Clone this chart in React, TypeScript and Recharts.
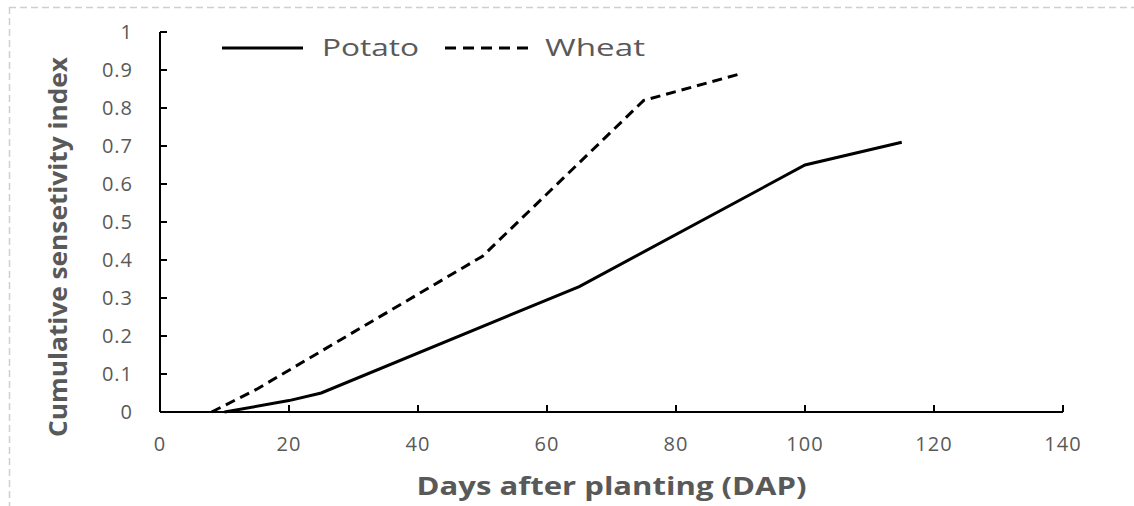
import { LineChart, Line, XAxis, YAxis, Label } from 'recharts';

// Days after planting (DAP) vs cumulative sensitivity index
const potatoDap = [10, 20, 25, 65, 100, 115];
const potatoIndex = [0, 0.03, 0.05, 0.33, 0.65, 0.71];
const wheatDap = [8, 15, 20, 25, 50, 75, 90];
const wheatIndex = [0, 0.06, 0.11, 0.16, 0.41, 0.82, 0.89];

const xTicks = [0, 20, 40, 60, 80, 100, 120, 140];
const yTicks = [0, 0.1, 0.2, 0.3, 0.4, 0.5, 0.6, 0.7, 0.8, 0.9, 1];

const potato = potatoDap.map((x, i) => ({ x, y: potatoIndex[i] }));
const wheat = wheatDap.map((x, i) => ({ x, y: wheatIndex[i] }));

const FONT = '"Open Sans", "Noto Sans", sans-serif';
const GREY = '#595959';

// legend drawn on its own, so it takes no room from the plot area
function ChartLegend() {
  return (
    <svg width={440} height={34} style={{ position: 'absolute', left: 222, top: 31 }} fontFamily={FONT}>
      <line x1={0} x2={81} y1={17} y2={17} stroke="#000" strokeWidth={3} />
      <text x={100} y={25} fontSize={24} fill={GREY} textLength={97} lengthAdjust="spacingAndGlyphs">
        Potato
      </text>
      <line x1={223} x2={306} y1={17} y2={17} stroke="#000" strokeWidth={3} strokeDasharray="11 7" />
      <text x={323} y={25} fontSize={24} fill={GREY} textLength={100} lengthAdjust="spacingAndGlyphs">
        Wheat
      </text>
    </svg>
  );
}

export default function App() {
  return (
    <div style={{ position: 'absolute', left: 0, top: 0, width: 1134, height: 506, background: '#fff' }}>
      <svg width={1134} height={506} style={{ position: 'absolute', left: 0, top: 0 }}>
        <line x1={9} x2={1134} y1={7.5} y2={7.5} stroke="#cfcfcf" strokeWidth={1.5} strokeDasharray="7 4" />
        <line x1={9.5} x2={9.5} y1={7} y2={506} stroke="#cfcfcf" strokeWidth={1.5} strokeDasharray="7 4" />
      </svg>
      <LineChart
        width={1134}
        height={506}
        margin={{ top: 32, right: 71, bottom: 0, left: 0 }}
        style={{ position: 'absolute', left: 0, top: 0, fontFamily: FONT }}
      >
        <XAxis
          type="number"
          dataKey="x"
          domain={[0, 140]}
          ticks={xTicks}
          height={94}
          axisLine={{ stroke: '#000', strokeWidth: 2 }}
          tickLine={{ stroke: '#000', strokeWidth: 2 }}
          tickSize={-7}
          tickMargin={32}
          tick={{ fill: GREY, fontSize: 20, letterSpacing: 1 }}
          allowDataOverflow
        >
          <Label
            position="insideBottom"
            content={(props: any) => {
              const vb = props.viewBox;
              return (
                <text
                  x={vb.x + vb.width / 2}
                  y={vb.y + vb.height - 11}
                  textAnchor="middle"
                  fill={GREY}
                  fontSize={25}
                  fontWeight={700}
                  fontFamily={FONT}
                  textLength={390}
                  lengthAdjust="spacingAndGlyphs"
                >
                  Days after planting (DAP)
                </text>
              );
            }}
          />
        </XAxis>
        <YAxis
          type="number"
          dataKey="y"
          domain={[0, 1]}
          ticks={yTicks}
          width={160}
          axisLine={{ stroke: '#000', strokeWidth: 2 }}
          tickLine={{ stroke: '#000', strokeWidth: 2 }}
          tickSize={-7}
          tickMargin={34}
          tick={{ fill: GREY, fontSize: 20, letterSpacing: 1 }}
          tickFormatter={(v: number) => String(v)}
          label={{
            content: () => (
              <text
                x={0}
                y={0}
                transform="translate(67 247) rotate(-90)"
                textAnchor="middle"
                fill={GREY}
                fontSize={25}
                fontWeight={700}
                fontFamily={FONT}
                textLength={380}
                lengthAdjust="spacingAndGlyphs"
              >
                Cumulative sensetivity index
              </text>
            ),
          }}
        />
        <Line
          data={potato}
          dataKey="y"
          name="Potato"
          type="linear"
          stroke="#000"
          strokeWidth={3}
          dot={false}
          isAnimationActive={false}
        />
        <Line
          data={wheat}
          dataKey="y"
          name="Wheat"
          type="linear"
          stroke="#000"
          strokeWidth={3}
          strokeDasharray="10 6"
          dot={false}
          isAnimationActive={false}
        />
      </LineChart>
      <ChartLegend />
    </div>
  );
}
